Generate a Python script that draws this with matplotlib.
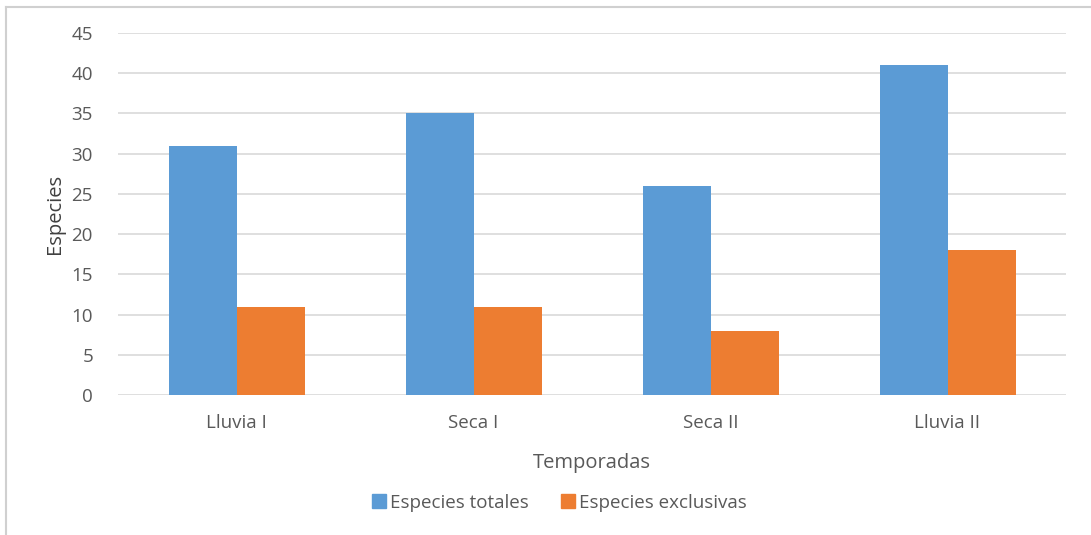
import matplotlib
matplotlib.use("Agg")
import matplotlib.pyplot as plt
import numpy as np
from matplotlib.lines import Line2D

categories = ["Lluvia I", "Seca I", "Seca II", "Lluvia II"]
totales = [31, 35, 26, 41]
exclusivas = [11, 11, 8, 18]
series_names = ["Especies totales", "Especies exclusivas"]
yticks = [0, 5, 10, 15, 20, 25, 30, 35, 40, 45]

plt.rcParams['font.family'] = ['Open Sans', 'DejaVu Sans']

W, H = 1091, 535
fig = plt.figure(figsize=(W / 100, H / 100), dpi=100)
ax = fig.add_axes([118 / W, 1 - 395 / H, (1066 - 118) / W, (395 - 33) / H])

x = np.arange(len(categories))
bw = 68 / 237
blue = "#5B9BD5"
orange = "#ED7D31"
ax.bar(x - bw / 2, totales, width=bw, color=blue, label=series_names[0], zorder=3)
ax.bar(x + bw / 2, exclusivas, width=bw, color=orange, label=series_names[1], zorder=3)

ax.set_xlim(-0.5, len(categories) - 0.5)
ax.set_ylim(0, 45)
ax.set_yticks(yticks)
ax.set_xticks(x)
ax.set_xticklabels(categories)
ax.yaxis.grid(True, color="#D9D9D9", linewidth=1.2, zorder=0)
ax.set_axisbelow(True)
for s in ax.spines.values():
    s.set_visible(False)
ax.tick_params(axis='both', length=0, labelsize=13.5, labelcolor="#595959")
ax.tick_params(axis='y', pad=18)
ax.tick_params(axis='x', pad=14)

ax.set_xlabel("Temporadas", fontsize=14.5, color="#595959", labelpad=15)
fig.text(55 / W, 1 - 214 / H, "Especies", rotation=90, fontsize=14.5, color="#404040",
         ha='center', va='center')

leg = fig.legend(handles=[
    Line2D([], [], marker='s', linestyle='none', markersize=9.5, color=blue, label=series_names[0]),
    Line2D([], [], marker='s', linestyle='none', markersize=9.5, color=orange, label=series_names[1])],
    loc='center', bbox_to_anchor=(558 / W, 1 - 503 / H), ncol=2, frameon=False,
    fontsize=13.5, handletextpad=0.1, columnspacing=1.6, handlelength=1.0)
for t in leg.get_texts():
    t.set_color("#595959")

# chart border (left and top visible)
fig.add_artist(Line2D([6 / W, 6 / W], [1 - 7 / H, 0], transform=fig.transFigure,
                      color="#D0D0D0", linewidth=1.5))
fig.add_artist(Line2D([6 / W, 1], [1 - 7 / H, 1 - 7 / H], transform=fig.transFigure,
                      color="#D0D0D0", linewidth=1.5))

fig.savefig("out.png", dpi=100)
